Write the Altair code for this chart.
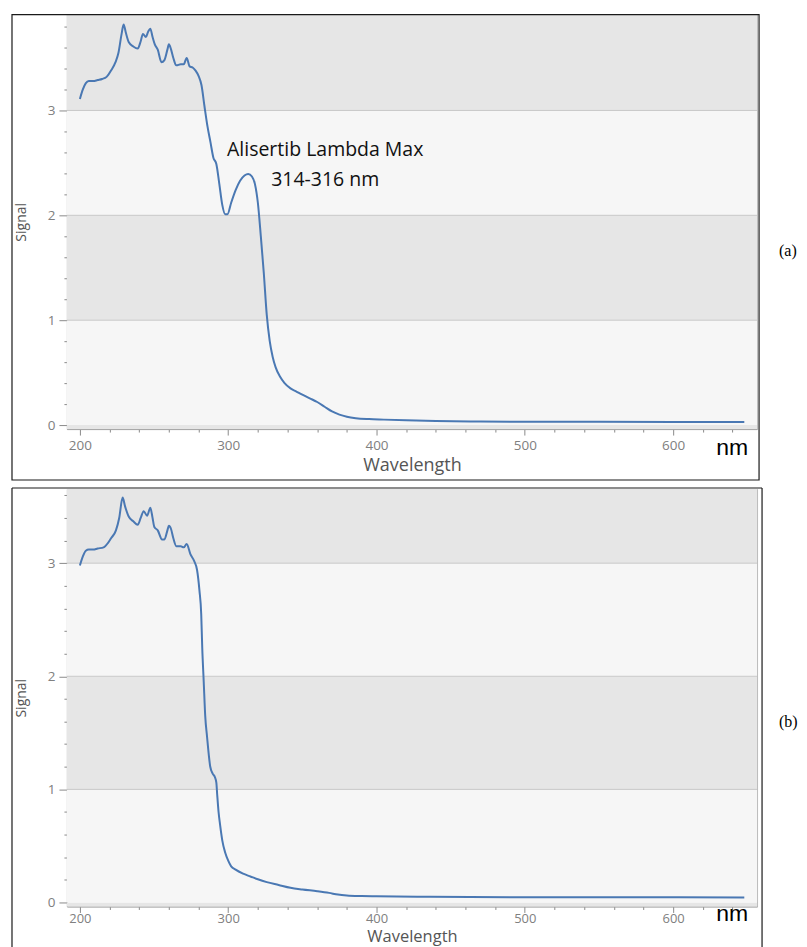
import altair as alt
import pandas as pd

# ---------------- data ----------------
wl_a = [200, 202, 204, 206, 209, 212, 215, 218, 221, 224, 226, 228, 229.5, 231, 233, 236, 239, 241,
        242.5, 244.5, 246, 247.5, 249, 250.5, 252.5, 255, 257, 259, 260, 261.5, 263, 265, 268, 270,
        272, 274, 276, 278, 280, 282, 284, 286, 288, 290, 292, 294, 296, 298, 299.5, 302, 305, 308,
        311, 313.5, 316, 318, 320, 322, 324, 326, 328, 330, 332, 335, 338, 342, 346, 350, 355, 360,
        365, 370, 375, 380, 386, 395, 405, 420, 440, 470, 500, 550, 600, 648]
sig_a = [3.11, 3.20, 3.26, 3.28, 3.28, 3.29, 3.30, 3.32, 3.38, 3.46, 3.55, 3.72, 3.82, 3.74, 3.65,
         3.61, 3.59, 3.66, 3.73, 3.70, 3.75, 3.78, 3.70, 3.63, 3.58, 3.46, 3.48, 3.58, 3.63, 3.58,
         3.50, 3.43, 3.44, 3.44, 3.50, 3.42, 3.41, 3.38, 3.33, 3.24, 3.04, 2.85, 2.70, 2.55, 2.49,
         2.30, 2.10, 2.01, 2.01, 2.12, 2.24, 2.33, 2.38, 2.395, 2.37, 2.30, 2.12, 1.80, 1.45, 1.05,
         0.80, 0.65, 0.55, 0.46, 0.40, 0.35, 0.32, 0.29, 0.255, 0.22, 0.175, 0.13, 0.10, 0.08,
         0.066, 0.057, 0.052, 0.045, 0.038, 0.034, 0.032, 0.031, 0.030, 0.030]

wl_b = [200, 202, 204, 206, 209, 212, 216, 219, 221, 224.3, 226.5, 228.8, 230.5, 233, 236, 239, 241,
        243, 245.3, 247.5, 249, 250.2, 252.5, 255.4, 257, 259, 260, 261.5, 263, 265, 268, 270, 272,
        274.5, 277, 279, 280.6, 281.8, 282.5, 283.5, 284.5, 285.7, 287.9, 289.5, 291, 292, 292.6,
        293.5, 294.6, 296, 298, 300, 302, 305, 310, 315, 320, 326, 334, 342, 350, 360, 368, 374,
        380, 390, 400, 436, 500, 560, 648]
sig_b = [2.98, 3.06, 3.11, 3.12, 3.12, 3.13, 3.14, 3.18, 3.22, 3.29, 3.40, 3.58, 3.50, 3.41, 3.37,
         3.34, 3.40, 3.46, 3.42, 3.49, 3.40, 3.32, 3.29, 3.21, 3.21, 3.29, 3.33, 3.30, 3.22, 3.15,
         3.15, 3.14, 3.17, 3.08, 3.02, 2.94, 2.76, 2.55, 2.25, 1.95, 1.65, 1.47, 1.20, 1.14, 1.11,
         1.06, 0.95, 0.80, 0.68, 0.55, 0.44, 0.37, 0.32, 0.29, 0.255, 0.23, 0.205, 0.18, 0.155,
         0.13, 0.115, 0.10, 0.085, 0.07, 0.062, 0.057, 0.055, 0.05, 0.047, 0.046, 0.045]

annot_text = ["Alisertib Lambda Max", "314-316 nm"]
annot_x = [365.4, 365.4]
annot_y = [2.562, 2.276]

grid_vals = [1, 2, 3]
x_ticks = list(range(200, 641, 20))
x_domain = [191.25, 656.6]

W = 691
LINE_COLOR = "#4a78b3"
DARK = "#e6e6e6"
LIGHT = "#f6f6f6"


def panel(wl, sig, ymin, ymax, H, tag, nm_y, tag_y, box, lab_pad, lab_size, x_title_pad,
          x_title_size, annot=False):
    y_ticks = [round(i * 0.2, 1) for i in range(0, int(ymax / 0.2) + 1)]
    xs = alt.Scale(domain=x_domain, nice=False, zero=False)
    ys = alt.Scale(domain=[ymin, ymax], nice=False, zero=False)

    x_axis = alt.Axis(
        values=x_ticks,
        labelExpr="datum.value % 100 === 0 ? datum.label : ''",
        tickSize={"condition": {"test": "datum.value % 100 === 0", "value": 6}, "value": 3},
        grid=False, labelOverlap=False, labelFont="Open Sans", labelFontSize=lab_size,
        labelColor="#808080", labelPadding=lab_pad, tickColor="#8a8a8a", domainColor="#a8a8a8",
        titleFont="Open Sans", titleFontSize=x_title_size, titleFontWeight="normal",
        titleColor="#555555", titlePadding=x_title_pad,
    )
    y_axis = alt.Axis(
        values=y_ticks,
        labelExpr="abs(datum.value - round(datum.value)) < 0.01 ? format(datum.value, 'd') : ''",
        tickSize={"condition": {"test": "abs(datum.value - round(datum.value)) < 0.01", "value": 8},
                  "value": 3},
        grid=False, labelOverlap=False, labelFont="Open Sans", labelFontSize=13.5,
        labelColor="#808080", labelPadding=4, tickColor="#8a8a8a", domainColor="#a8a8a8",
        titleFont="Open Sans", titleFontSize=14, titleFontWeight="normal",
        titleColor="#555555", titlePadding=19,
    )

    # alternating bands
    edges = [ymin, 0, 1, 2, 3, ymax]
    fills = [DARK, LIGHT, DARK, LIGHT, DARK]
    bands_df = pd.DataFrame({"lo": edges[:-1], "hi": edges[1:], "fill": fills})
    bands = alt.Chart(bands_df).mark_rect().encode(
        x=alt.value(0), x2=alt.value(W),
        y=alt.Y("lo:Q", scale=ys, axis=y_axis, title="Signal"),
        y2="hi:Q",
        color=alt.Color("fill:N", scale=None),
    )

    grid = alt.Chart(pd.DataFrame({"g": grid_vals})).mark_rule(
        color="#c8c8c8", strokeWidth=1
    ).encode(
        x=alt.value(0), x2=alt.value(W),
        y=alt.Y("g:Q", scale=ys, axis=y_axis, title="Signal"),
    )

    df = pd.DataFrame({"Wavelength": wl, "Signal": sig})
    line = alt.Chart(df).mark_line(
        color=LINE_COLOR, strokeWidth=2, interpolate="monotone"
    ).encode(
        x=alt.X("Wavelength:Q", scale=xs, axis=x_axis, title="Wavelength"),
        y=alt.Y("Signal:Q", scale=ys, axis=y_axis, title="Signal"),
    )

    one = pd.DataFrame({"k": [0]})
    nm = alt.Chart(one).mark_text(
        text="nm", font="Liberation Sans Narrow, Liberation Sans", fontSize=23,
        color="#000000", align="center", baseline="alphabetic"
    ).encode(x=alt.value(666), y=alt.value(nm_y))

    tag_t = alt.Chart(one).mark_text(
        text=tag, font="Liberation Serif", fontSize=16, color="#000000",
        align="left", baseline="alphabetic"
    ).encode(x=alt.value(713), y=alt.value(tag_y))

    layers = [bands, grid, line]
    if annot:
        adf = pd.DataFrame({"t": annot_text, "ax": annot_x, "ay": annot_y})
        layers.append(
            alt.Chart(adf).mark_text(
                font="Open Sans", fontSize=19.5, color="#111111",
                align="center", baseline="alphabetic"
            ).encode(
                x=alt.X("ax:Q", scale=xs, axis=x_axis, title="Wavelength"),
                y=alt.Y("ay:Q", scale=ys, axis=y_axis, title="Signal"),
                text="t:N",
            )
        )
    layers += [nm, tag_t]

    if box == "rect":
        layers.append(
            alt.Chart(one).mark_rect(fill=None, stroke="#1a1a1a", strokeWidth=1.2).encode(
                x=alt.value(-55), x2=alt.value(693), y=alt.value(0), y2=alt.value(466)
            )
        )
    else:
        rs = dict(color="#1a1a1a", strokeWidth=1.2)
        layers.append(alt.Chart(one).mark_rule(**rs).encode(
            x=alt.value(-55), x2=alt.value(696), y=alt.value(-1)))
        layers.append(alt.Chart(one).mark_rule(**rs).encode(
            x=alt.value(-55), y=alt.value(-1), y2=alt.value(461)))
        layers.append(alt.Chart(one).mark_rule(**rs).encode(
            x=alt.value(696), y=alt.value(-1), y2=alt.value(461)))

    return alt.layer(*layers).properties(width=W, height=H)


pa = panel(wl_a, sig_a, -0.038, 3.914, 415, "(a)", 441, 242, "rect", 3, 13.5, 5, 18, annot=True)
pb = panel(wl_b, sig_b, -0.035, 3.656, 418, "(b)", 433, 238, "rules", 0, 13, 3, 16.5)

chart = alt.vconcat(pa, pb, spacing=4).properties(
    padding={"left": 2, "top": 4, "right": 0, "bottom": 0},
    background="white",
).configure_view(
    stroke="#b8b8b8", strokeWidth=1
).configure_axis(labelOverlap=False)

chart.save("out.html", embed_options={"renderer": "svg", "actions": False})
